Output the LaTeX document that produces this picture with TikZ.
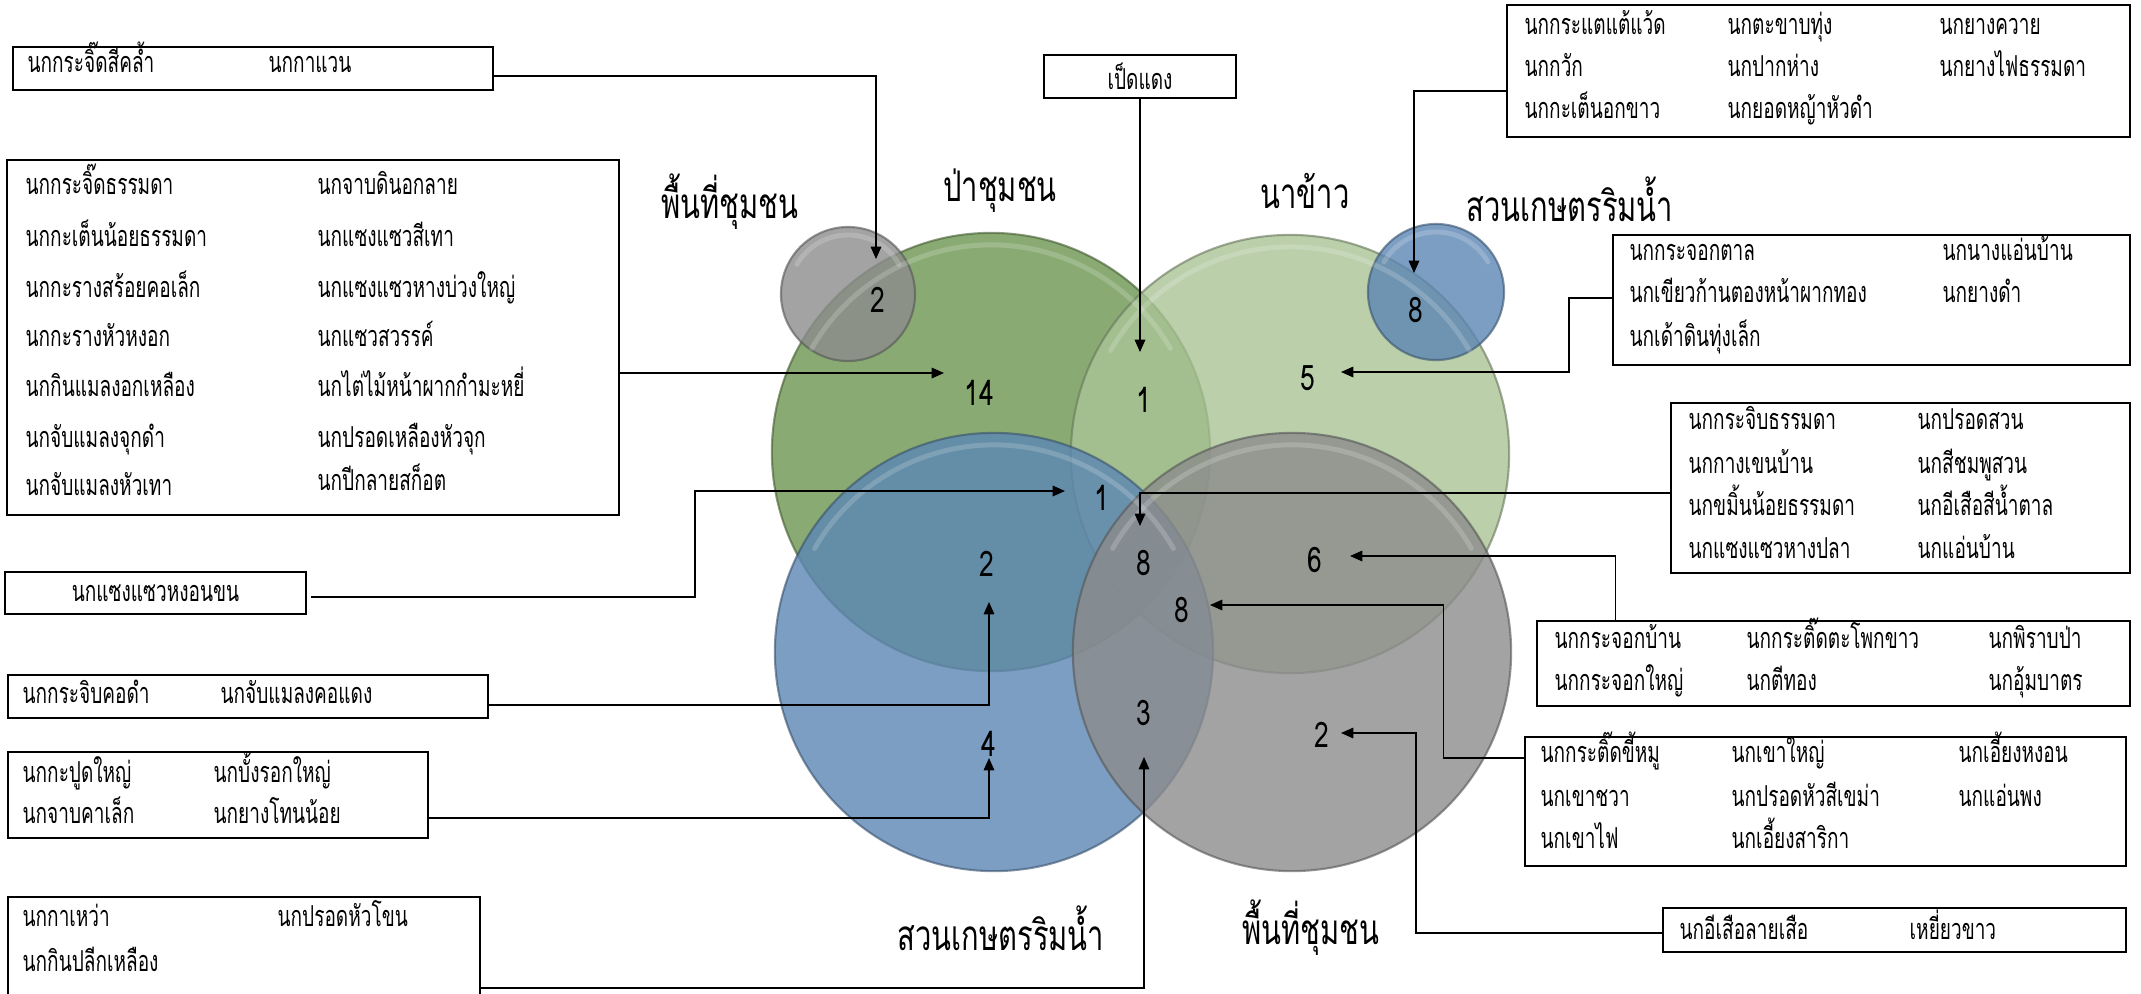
\documentclass[tikz,border=0pt]{standalone}
\usepackage{fontspec}
\setmainfont{Loma}[Script=Thai,FakeStretch=0.66]
\newfontfamily\titlefont{Loma}[Script=Thai,FakeStretch=0.69]
\newfontfamily\digitfont{Loma}[Script=Thai,FakeStretch=0.75]
\usepackage{tikz}
\usetikzlibrary{arrows.meta,calc}
\definecolor{forestgreen}{RGB}{108,150,80}
\definecolor{ricegreen}{RGB}{170,195,150}
\definecolor{orchardblue}{RGB}{92,134,180}
\definecolor{commgray}{RGB}{140,140,140}
\tikzstyle{zone} = [circle, inner sep=0pt, fill opacity=0.8, draw opacity=0.6, line width=0.6pt]
\tikzstyle{bevel} = [white, line width=1.4pt, opacity=0.18, line cap=round]
\tikzstyle{birdbox} = [rectangle, draw=black, line width=0.6pt, inner sep=0pt]
\tikzstyle{bird} = [anchor=base west, inner sep=0pt, font=\fontsize{8.2}{9}\selectfont]
\tikzstyle{tally} = [inner sep=0pt, font=\digitfont\fontsize{10}{11}\selectfont]
\tikzstyle{areatitle} = [inner sep=0pt, font=\titlefont\fontsize{12}{13}\selectfont]
\tikzstyle{arrow} = [line width=0.4pt,-{Triangle[length=3.5pt,width=3pt]}]

\begin{document}
\begin{tikzpicture}[x=0.01cm,y=-0.01cm]
\useasboundingbox (0,0) rectangle (2141,993);
% areas
\node (forest) [zone, minimum size=4.38cm, fill=forestgreen, draw=forestgreen!60!black] at (991,452) {};
\node (rice) [zone, minimum size=4.38cm, fill=ricegreen, draw=ricegreen!60!black] at (1290,454) {};
\node (orchard) [zone, minimum size=4.38cm, fill=orchardblue, draw=orchardblue!60!black] at (994,652) {};
\node (village) [zone, minimum size=4.38cm, fill=commgray, draw=commgray!60!black] at (1292,652) {};
\node (smallvillage) [zone, minimum size=1.34cm, fill=commgray, draw=commgray!60!black] at (848,294) {};
\node (smallorchard) [zone, minimum size=1.36cm, fill=orchardblue, draw=orchardblue!60!black] at (1436,292) {};
\foreach \c/\r in {forest/2.07,rice/2.07,orchard/2.07,village/2.07,smallvillage/0.59,smallorchard/0.60}
  \draw[bevel] ($(\c.center)+(150:\r cm)$) arc[start angle=150, end angle=30, radius=\r cm];

% titles
\node (t1) [areatitle] at (730,202) {พื้นที่ชุมชน};
\node (t2) [areatitle] at (1000,191) {ป่าชุมชน};
\node (t3) [areatitle] at (1305,191) {นาข้าว};
\node (t4) [areatitle] at (1570,199) {สวนเกษตรริมน้ำ};
\node (t5) [areatitle] at (1001,928) {สวนเกษตรริมน้ำ};
\node (t6) [areatitle] at (1311,928) {พื้นที่ชุมชน};

% counts
\foreach \n/\x/\y [count=\i] in {2/878/300, 14/979/393, 1/1144/400, 5/1308/378, 8/1416/310,
  1/1102/498, 8/1144/563, 6/1315/560, 2/987/564, 8/1182/610, 3/1144/713, 4/989/744, 2/1322/735}
  \node (n\i) [tally] at (\x,\y) {\n};

% boxes
\node (boxA) [birdbox, minimum width=4.80cm, minimum height=0.43cm] at (253,68.5) {};
\node (boxB) [birdbox, minimum width=6.12cm, minimum height=3.55cm] at (313,337.5) {};
\node (boxC) [birdbox, minimum width=3.01cm, minimum height=0.42cm, font=\fontsize{8.2}{9}\selectfont] at (155.5,593) {นกแซงแซวหงอนขน};
\node (boxD) [birdbox, minimum width=4.80cm, minimum height=0.43cm] at (248,696.5) {};
\node (boxE) [birdbox, minimum width=4.20cm, minimum height=0.86cm] at (218,795) {};
\node (boxF) [birdbox, minimum width=4.72cm, minimum height=1.06cm] at (244,950) {};
\node (boxG) [birdbox, minimum width=1.92cm, minimum height=0.43cm, font=\fontsize{8.2}{9}\selectfont] at (1140,76.5) {เป็ดแดง};
\node (boxH) [birdbox, minimum width=6.23cm, minimum height=1.32cm] at (1818.5,71) {};
\node (boxI) [birdbox, minimum width=5.17cm, minimum height=1.30cm] at (1871.5,300) {};
\node (boxJ) [birdbox, minimum width=4.59cm, minimum height=1.70cm] at (1900.5,488) {};
\node (boxK) [birdbox, minimum width=5.93cm, minimum height=0.85cm] at (1833.5,663.5) {};
\node (boxL) [birdbox, minimum width=6.01cm, minimum height=1.29cm] at (1825.5,801.5) {};
\node (boxM) [birdbox, minimum width=4.63cm, minimum height=0.44cm] at (1894.5,930) {};

% bird names
\foreach \b/\x/\y [count=\i] in {นกกระจิ๊ดสีคล้ำ/27/72, นกกาแวน/268/72}
  \node (a\i) [bird] at (\x,\y) {\b};
\foreach \b/\x/\y [count=\i] in {นกกระจิ๊ดธรรมดา/25/194, นกกะเต็นน้อยธรรมดา/25/246, นกกะรางสร้อยคอเล็ก/25/297,
  นกกะรางหัวหงอก/25/346, นกกินแมลงอกเหลือง/25/396, นกจับแมลงจุกดำ/25/447, นกจับแมลงหัวเทา/25/495,
  นกจาบดินอกลาย/317/194, นกแซงแซวสีเทา/317/246, นกแซงแซวหางบ่วงใหญ่/317/297, นกแซวสวรรค์/317/346,
  นกไต่ไม้หน้าผากกำมะหยี่/317/396, นกปรอดเหลืองหัวจุก/317/447, นกปีกลายสก็อต/317/490}
  \node (b\i) [bird] at (\x,\y) {\b};
\foreach \b/\x/\y [count=\i] in {นกกระจิบคอดำ/22/703, นกจับแมลงคอแดง/220/703}
  \node (d\i) [bird] at (\x,\y) {\b};
\foreach \b/\x/\y [count=\i] in {นกกะปูดใหญ่/22/782, นกบั้งรอกใหญ่/213/782, นกจาบคาเล็ก/22/823, นกยางโทนน้อย/213/823}
  \node (e\i) [bird] at (\x,\y) {\b};
\foreach \b/\x/\y [count=\i] in {นกกาเหว่า/22/926, นกปรอดหัวโขน/277/926, นกกินปลีกเหลือง/22/971}
  \node (f\i) [bird] at (\x,\y) {\b};
\foreach \b/\x/\y [count=\i] in {นกกระแตแต้แว้ด/1524/34, นกตะขาบทุ่ง/1727/34, นกยางควาย/1939/34,
  นกกวัก/1524/76, นกปากห่าง/1727/76, นกยางไฟธรรมดา/1939/76, นกกะเต็นอกขาว/1524/118, นกยอดหญ้าหัวดำ/1727/118}
  \node (h\i) [bird] at (\x,\y) {\b};
\foreach \b/\x/\y [count=\i] in {นกกระจอกตาล/1629/260, นกนางแอ่นบ้าน/1942/260,
  นกเขียวก้านตองหน้าผากทอง/1629/302, นกยางดำ/1942/302, นกเด้าดินทุ่งเล็ก/1629/346}
  \node (i\i) [bird] at (\x,\y) {\b};
\foreach \b/\x/\y [count=\i] in {นกกระจิบธรรมดา/1688/429, นกปรอดสวน/1917/429, นกกางเขนบ้าน/1688/473, นกสีชมพูสวน/1917/473,
  นกขมิ้นน้อยธรรมดา/1688/515, นกอีเสือสีน้ำตาล/1917/515, นกแซงแซวหางปลา/1688/558, นกแอ่นบ้าน/1917/558}
  \node (j\i) [bird] at (\x,\y) {\b};
\foreach \b/\x/\y [count=\i] in {นกกระจอกบ้าน/1554/648, นกกระติ๊ดตะโพกขาว/1746/648, นกพิราบป่า/1988/648,
  นกกระจอกใหญ่/1554/690, นกตีทอง/1746/690, นกอุ้มบาตร/1988/690}
  \node (k\i) [bird] at (\x,\y) {\b};
\foreach \b/\x/\y [count=\i] in {นกกระติ๊ดขี้หมู/1540/762, นกเขาใหญ่/1731/762, นกเอี้ยงหงอน/1958/762,
  นกเขาชวา/1540/806, นกปรอดหัวสีเขม่า/1731/806, นกแอ่นพง/1958/806, นกเขาไฟ/1540/848, นกเอี้ยงสาริกา/1731/848}
  \node (l\i) [bird] at (\x,\y) {\b};
\foreach \b/\x/\y [count=\i] in {นกอีเสือลายเสือ/1679/939, เหยี่ยวขาว/1909/939}
  \node (m\i) [bird] at (\x,\y) {\b};

% arrow ends
\coordinate (tipA) at (876,259);
\coordinate (tipB) at (944,373);
\coordinate (tipC) at (1065,491);
\coordinate (tipD) at (989,602);
\coordinate (tipE) at (989,758);
\coordinate (tipF) at (1144,757);
\coordinate (tipG) at (1140,352);
\coordinate (tipH) at (1414,273);
\coordinate (tipI) at (1341,372);
\coordinate (tipJ) at (1140,526);
\coordinate (tipK) at (1350,556);
\coordinate (tipL) at (1210,605);
\coordinate (tipM) at (1341,733);

% connectors
\draw[arrow] ([yshift=-0.075cm]boxA.east) -| (tipA);
\draw[arrow] (boxB.east |- tipB) -- (tipB);
\draw[arrow] ([xshift=0.04cm,yshift=-0.04cm]boxC.east) -- ++(384,0) |- (tipC);
\draw[arrow] ([yshift=-0.085cm]boxD.east) -| (tipD);
\draw[arrow] ([yshift=-0.23cm]boxE.east) -| (tipE);
\draw[arrow] ([yshift=-0.38cm]boxF.east) -| (tipF);
\draw[arrow] (boxG.south) -- (tipG);
\draw[arrow] ([yshift=-0.2cm]boxH.west) -| (tipH);
\draw[arrow] ([yshift=0.02cm]boxI.west) -- ++(-43,0) |- (tipI);
\draw[arrow] ([yshift=-0.05cm]boxJ.west) -| (tipJ);
\draw[arrow] ([xshift=-2.18cm]boxK.north) |- (tipK);
\draw[arrow] ([yshift=0.435cm]boxL.west) -- ++(-80,0) |- (tipL);
\draw[arrow] ([yshift=-0.03cm]boxM.west) -- ++(-246,0) |- (tipM);
\end{tikzpicture}
\end{document}
